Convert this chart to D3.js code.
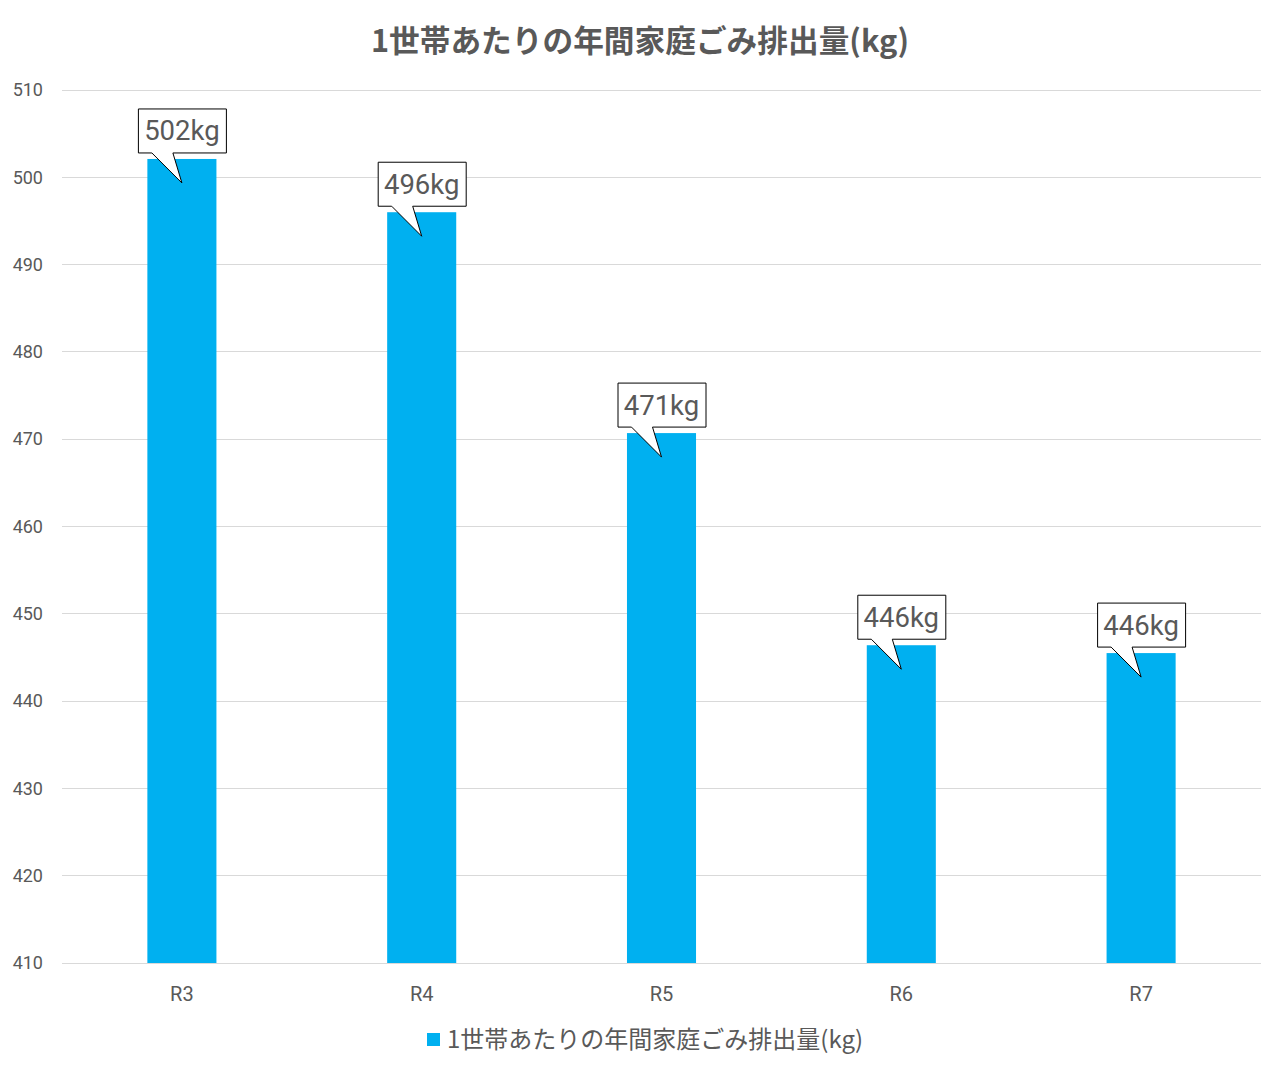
<!DOCTYPE html>
<html><head><meta charset="utf-8">
<script src="https://cdn.jsdelivr.net/npm/d3@7/dist/d3.min.js"></script>
<style>body{margin:0;background:#fff;} svg{display:block;font-family:"Noto Sans CJK JP","Noto Sans",sans-serif;}</style>
</head><body><svg id="c" width="1280" height="1070"></svg>
<script>
const categories = ["R3","R4","R5","R6","R7"];
const values = [502.1, 496.0, 470.7, 446.4, 445.5];
const labels = ["502kg","496kg","471kg","446kg","446kg"];
const yTicks = [410,420,430,440,450,460,470,480,490,500,510];
const titleText = "1世帯あたりの年間家庭ごみ排出量(kg)";
const seriesName = "1世帯あたりの年間家庭ごみ排出量(kg)";

const svg = d3.select("#c");
const L = 62, R = 1261, T = 90, B = 963;
const x = d3.scaleBand().domain(categories).range([L, R]).paddingInner(0.712).paddingOuter(0.356);
const y = d3.scaleLinear().domain([410, 510]).range([B, T]);
const txt = "#595959";

// title
svg.append("text").attr("x", 640).attr("y", 52).attr("text-anchor", "middle")
  .attr("font-size", 30.7).attr("font-weight", "bold").attr("fill", txt).text(titleText);

// grid
svg.append("g").selectAll("line").data(yTicks).join("line")
  .attr("x1", L).attr("x2", R).attr("y1", d => y(d)).attr("y2", d => y(d))
  .attr("stroke", "#d9d9d9").attr("stroke-width", 1).attr("shape-rendering", "crispEdges");

// y axis labels
const yAxis = d3.axisLeft(y).tickValues(yTicks).tickSize(0).tickPadding(0);
const ya = svg.append("g").attr("transform", `translate(43,0)`).call(yAxis)
  .attr("font-size", null).attr("font-family", null);
ya.select(".domain").remove();
ya.selectAll("text").style("font-size", "18px").attr("fill", txt).style("font-family", "Roboto, 'Noto Sans', sans-serif");

// bars
svg.append("g").selectAll("rect").data(values).join("rect")
  .attr("x", (d, i) => x(categories[i])).attr("width", x.bandwidth())
  .attr("y", d => y(d)).attr("height", d => B - y(d)).attr("fill", "#00b0f0");

// x axis labels
const xAxis = d3.axisBottom(x).tickSize(0).tickPadding(0);
const xa = svg.append("g").attr("transform", `translate(0,${B + 24})`).call(xAxis)
  .attr("font-size", null).attr("font-family", null);
xa.select(".domain").remove();
xa.selectAll("text").style("font-size", "20px").attr("fill", txt).style("font-family", "Roboto, 'Noto Sans', sans-serif");

// callouts
const cg = svg.append("g");
values.forEach((v, i) => {
  const cx = x(categories[i]) + x.bandwidth() / 2;
  const top = y(v);
  const bw = 88, bh = 44;
  const bx = cx - bw / 2 + 0.5, by = top - 6 - bh;
  const tip = [cx, top + 24];
  const path = `M${bx},${by} H${bx + bw} V${by + bh} H${cx - 9} L${tip[0]},${tip[1]} L${cx - 30},${by + bh} H${bx} Z`;
  cg.append("path").attr("d", path).attr("fill", "#fff").attr("stroke", "#000").attr("stroke-width", 1);
  cg.append("text").attr("x", cx).attr("y", by + bh / 2 + 9.5).attr("text-anchor", "middle")
    .attr("font-size", 27.5).attr("fill", txt).attr("font-family", "Roboto, 'Noto Sans', sans-serif")
    .text(labels[i]);
});

// legend
const lg = svg.append("g");
lg.append("rect").attr("x", 427).attr("y", 1033).attr("width", 13).attr("height", 13).attr("fill", "#00b0f0");
lg.append("text").attr("x", 447).attr("y", 1048).attr("font-size", 24).attr("fill", txt).text(seriesName);
</script></body></html>
